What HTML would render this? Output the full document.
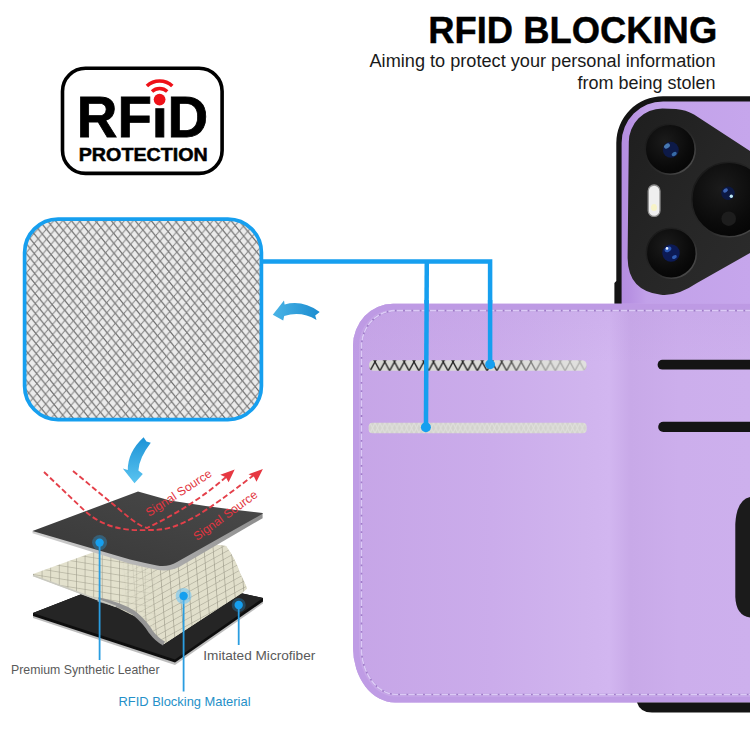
<!DOCTYPE html>
<html lang="en">
<head>
<meta charset="utf-8">
<title>RFID Blocking</title>
<style>
html,body{margin:0;padding:0;background:#fff;}
body{width:750px;height:750px;overflow:hidden;position:relative;font-family:"Liberation Sans",sans-serif;}
svg{position:absolute;left:0;top:0;display:block;}
text{font-family:"Liberation Sans",sans-serif;}
</style>
</head>
<body>
<svg width="750" height="750" viewBox="0 0 750 750">
<defs>
  <pattern id="mesh" width="8.4" height="10" patternUnits="userSpaceOnUse" patternTransform="matrix(1,0.06,0.02,1,25,208)">
    <rect width="8.4" height="10" fill="#ebebeb"/>
    <path d="M0,-5 L12.6,10 M-4.2,0 L8.4,15" fill="none" stroke="#6c6c6c" stroke-width="1.25"/>
    <path d="M-4.2,10 L8.4,-5 M0,15 L12.6,0" fill="none" stroke="#808080" stroke-width="0.95"/>
  </pattern>
  <pattern id="grid2" width="8.6" height="6.6" patternUnits="userSpaceOnUse" patternTransform="matrix(1,0.16,0,1,33,574)">
    <rect width="8.6" height="6.6" fill="#e3e1cd"/>
    <path d="M0,0 L8.6,0 M0,0 L0,6.6" fill="none" stroke="#9b9988" stroke-width="1.1"/>
  </pattern>
  <pattern id="grid3" width="8.7" height="6.3" patternUnits="userSpaceOnUse" patternTransform="matrix(1,-0.55,0.08,1,150,560)">
    <rect width="8.7" height="6.3" fill="#e1dfcb"/>
    <path d="M0,0 L8.7,0 M0,0 L0,6.3" fill="none" stroke="#959383" stroke-width="1.1"/>
  </pattern>
  <linearGradient id="meshfade" x1="0" y1="0" x2="1" y2="0">
    <stop offset="0" stop-color="#fff"/><stop offset="1" stop-color="#000"/>
  </linearGradient>
  <mask id="meshmask" maskUnits="userSpaceOnUse" x="30" y="530" width="230" height="130">
    <rect x="30" y="530" width="230" height="130" fill="#000"/>
    <rect x="120" y="530" width="40" height="130" fill="url(#meshfade)" transform="rotate(180 140 595)"/>
    <rect x="160" y="530" width="100" height="130" fill="#fff"/>
  </mask>
  <pattern id="slotmesh" x="365.25" y="361.9" width="9.75" height="18.04" patternUnits="userSpaceOnUse">
    <path d="M0,0 L4.875,9.02 L0,18.04 M9.75,0 L4.875,9.02 L9.75,18.04" fill="none" stroke="#232323" stroke-width="1.45"/>
  </pattern>
  <pattern id="slotmesh2" x="365.25" y="422.7" width="9.75" height="10.6" patternUnits="userSpaceOnUse">
    <rect width="9.75" height="10.6" fill="#d3d3ce"/>
    <path d="M0,0 L4.875,10.6 L9.75,0 M0,10.6 L4.875,0 L9.75,10.6" fill="none" stroke="#e0e0dc" stroke-width="1.1"/>
  </pattern>
  <linearGradient id="slotbg" x1="0" y1="0" x2="1" y2="0">
    <stop offset="0" stop-color="#d8d8d4"/>
    <stop offset="0.6" stop-color="#dcdcd9"/>
    <stop offset="1" stop-color="#e0e0de"/>
  </linearGradient>
  <linearGradient id="fadeg" x1="0" y1="0" x2="1" y2="0">
    <stop offset="0" stop-color="#fff"/>
    <stop offset="0.55" stop-color="#fff"/>
    <stop offset="0.8" stop-color="#555"/>
    <stop offset="1" stop-color="#333"/>
  </linearGradient>
  <mask id="fade" maskUnits="userSpaceOnUse" x="369" y="355" width="220" height="20"><rect x="369" y="355" width="220" height="20" fill="url(#fadeg)"/></mask>
  <linearGradient id="arrowg" x1="0" y1="0" x2="1" y2="0">
    <stop offset="0" stop-color="#4ab4e6"/>
    <stop offset="1" stop-color="#1b8cd0"/>
  </linearGradient>
  <linearGradient id="arrowg2" x1="0" y1="0" x2="0" y2="1">
    <stop offset="0" stop-color="#1c92d6"/>
    <stop offset="1" stop-color="#5ac4f0"/>
  </linearGradient>
  <linearGradient id="thickg" x1="0" y1="0" x2="1" y2="0">
    <stop offset="0" stop-color="#cfcfcf"/>
    <stop offset="0.55" stop-color="#b0b0b0"/>
    <stop offset="1" stop-color="#8e8e8e"/>
  </linearGradient>
  <linearGradient id="darkg" x1="0" y1="1" x2="1" y2="0">
    <stop offset="0" stop-color="#383838"/>
    <stop offset="1" stop-color="#4a4a4a"/>
  </linearGradient>
  <radialGradient id="lensblue" cx="0.45" cy="0.4" r="0.6">
    <stop offset="0" stop-color="#3a6fd0"/>
    <stop offset="0.6" stop-color="#15307a"/>
    <stop offset="1" stop-color="#070d24"/>
  </radialGradient>
  <linearGradient id="phoneg" gradientUnits="userSpaceOnUse" x1="621" y1="0" x2="750" y2="0">
    <stop offset="0" stop-color="#b48de0"/>
    <stop offset="0.07" stop-color="#b791e2"/>
    <stop offset="0.2" stop-color="#c2a1e9"/>
    <stop offset="1" stop-color="#c6a6ec"/>
  </linearGradient>
  <linearGradient id="islandg" x1="0" y1="0" x2="1" y2="1">
    <stop offset="0" stop-color="#1e1e1e"/>
    <stop offset="0.5" stop-color="#262626"/>
    <stop offset="1" stop-color="#2c2c2c"/>
  </linearGradient>
  <linearGradient id="rimg" x1="0" y1="0" x2="1" y2="1">
    <stop offset="0" stop-color="#161616"/>
    <stop offset="0.6" stop-color="#2a2a2a"/>
    <stop offset="1" stop-color="#5a5a5a"/>
  </linearGradient>
  <radialGradient id="lensdisc" cx="0.4" cy="0.35" r="0.7">
    <stop offset="0" stop-color="#1b1b1b"/>
    <stop offset="0.7" stop-color="#0a0a0a"/>
    <stop offset="1" stop-color="#050505"/>
  </radialGradient>
  <linearGradient id="walletg" gradientUnits="userSpaceOnUse" x1="353" y1="0" x2="750" y2="0">
    <stop offset="0" stop-color="#c6a5e7"/>
    <stop offset="0.35" stop-color="#cbaceb"/>
    <stop offset="0.58" stop-color="#d0b4ee"/>
    <stop offset="0.645" stop-color="#d2b6f0"/>
    <stop offset="0.70" stop-color="#c8a9e8"/>
    <stop offset="0.82" stop-color="#ccaeec"/>
    <stop offset="1" stop-color="#cdb0ed"/>
  </linearGradient>
  <linearGradient id="wallettop" x1="0" y1="0" x2="0" y2="1">
    <stop offset="0" stop-color="#b48edc" stop-opacity="0.15"/>
    <stop offset="1" stop-color="#b48edc" stop-opacity="0"/>
  </linearGradient>
</defs>

<rect width="750" height="750" fill="#ffffff"/>

<!-- ===== heading ===== -->
<text x="428.2" y="42.6" font-size="36" font-weight="700" fill="#000" stroke="#000" stroke-width="0.4" textLength="289" lengthAdjust="spacingAndGlyphs">RFID BLOCKING</text>
<text x="369.5" y="66.5" font-size="18" fill="#1a1a1a" textLength="346" lengthAdjust="spacingAndGlyphs">Aiming to protect your personal information</text>
<text x="577.5" y="88.7" font-size="18" fill="#1a1a1a" textLength="138" lengthAdjust="spacingAndGlyphs">from being stolen</text>

<!-- ===== RFID badge ===== -->
<g id="badge">
  <rect x="62.5" y="68.3" width="159.6" height="105.1" rx="23" ry="23" fill="#fff" stroke="#000" stroke-width="3.6"/>
  <text x="76.75" y="136.6" font-size="57" font-weight="700" fill="#000" stroke="#000" stroke-width="0.8" textLength="131.5" lengthAdjust="spacingAndGlyphs">RF<tspan fill="#000">I</tspan>D</text>
  <text x="78.75" y="161" font-size="18" font-weight="700" fill="#000" stroke="#000" stroke-width="0.5" textLength="129" lengthAdjust="spacingAndGlyphs">PROTECTION</text>
</g>

<!-- ===== mesh swatch ===== -->
<g id="swatch">
  <rect x="24.6" y="219.1" width="236.8" height="200.5" rx="33.5" ry="33.5" fill="url(#mesh)" stroke="#169fef" stroke-width="3.7"/>
</g>

<!-- connectors -->
<g fill="none" stroke="#169fef" stroke-width="4.5">
  <path d="M262,261.4 L490.1,261.4 L490.1,364"/>
  <path d="M426.8,261.4 L425.9,427"/>
</g>

<!-- ===== phone + wallet ===== -->
<g id="phone">
  <path d="M614.4,304 L614.4,283 L616.3,281 L616.3,143 A46.6,46.6 0 0 1 662.9,96.3 L750,96.3 L750,304 Z" fill="#141414"/>
  
  <path d="M621.6,304 L621.6,143 A41.5,41.5 0 0 1 663.1,101.4 L750,101.4 L750,304 Z" fill="url(#phoneg)"/>
  <path d="M628.8,142 A33.5,33.5 0 0 1 662.3,108.5 L676,109 Q686,109.8 694,114.5 L750,151 L750,253 L697,283 Q677,296.5 661,294.8 Q628,291 627.6,258 Z" fill="url(#islandg)"/>
  <!-- lenses -->
  <circle cx="670.2" cy="149.2" r="25" fill="url(#lensdisc)" stroke="url(#rimg)" stroke-width="1.6"/>
  <circle cx="670.8" cy="149.8" r="8" fill="#0d1a48"/>
  <ellipse cx="667" cy="146" rx="3.2" ry="2.2" fill="#5b9ad6" opacity="0.75" transform="rotate(-35 667 146)"/>
  <ellipse cx="674.2" cy="154" rx="2.8" ry="1.9" fill="#4a8ed0" opacity="0.7" transform="rotate(-35 674.2 154)"/>
  <circle cx="671.3" cy="253.2" r="25" fill="url(#lensdisc)" stroke="url(#rimg)" stroke-width="1.6"/>
  <circle cx="671" cy="253" r="8.7" fill="#0c1a55"/>
  <ellipse cx="668" cy="249.4" rx="3.6" ry="2.4" fill="#2f5fc0" opacity="0.9" transform="rotate(-30 668 249.4)"/>
  <circle cx="667" cy="248.4" r="1.3" fill="#e6f0ff"/>
  <ellipse cx="674.4" cy="257" rx="2.6" ry="1.7" fill="#3a6fd0" opacity="0.8" transform="rotate(-30 674.4 257)"/>
  <circle cx="729" cy="199.5" r="37.3" fill="url(#lensdisc)" stroke="url(#rimg)" stroke-width="1.6"/>
  <circle cx="728" cy="193.3" r="6.7" fill="#0c1842"/>
  <ellipse cx="725.5" cy="190.5" rx="2.6" ry="1.8" fill="#4a78d0" opacity="0.8" transform="rotate(-35 725.5 190.5)"/>
  <circle cx="731.3" cy="196.2" r="1.7" fill="#bfeaf5"/>
  <circle cx="728.7" cy="218.7" r="7.3" fill="#1d1d1d"/>
  <rect x="648.2" y="185" width="11.8" height="31.4" rx="5.9" ry="5.9" fill="#efefef" stroke="#8e8e8e" stroke-width="1.3"/>
  <ellipse cx="654" cy="207.5" rx="3" ry="3.6" fill="#f7f3c8"/>
</g>

<g id="wallet">
  <clipPath id="wclip"><path d="M760,303.8 L393,303.8 A40,42 0 0 0 353,345.8 L353,647.5 A42,55 0 0 0 395,702.5 L760,702.5 Z"/></clipPath>
  <path d="M760,303.8 L393,303.8 A40,42 0 0 0 353,345.8 L353,647.5 A42,55 0 0 0 395,702.5 L760,702.5 Z" fill="url(#walletg)"/>
  <g clip-path="url(#wclip)">
    <path d="M760,303.8 L393,303.8 A40,42 0 0 0 353,345.8 L353,647.5 A42,55 0 0 0 395,702.5 L760,702.5" fill="none" stroke="#bf9ce5" stroke-width="12"/>
    <rect x="353" y="303" width="400" height="60" fill="url(#wallettop)"/>
    <path d="M760,310.6 L395.5,310.6 A34,36 0 0 0 361.5,346.6 L361.5,648 A35,46.5 0 0 0 396.5,694.5 L760,694.5" fill="none" stroke="#9f7cc8" stroke-width="1.6"/>
    <path d="M760,310.6 L395.5,310.6 A34,36 0 0 0 361.5,346.6 L361.5,648 A35,46.5 0 0 0 396.5,694.5 L760,694.5" fill="none" stroke="#dccaf6" stroke-width="1.6" stroke-dasharray="6.5 1.8"/>
  </g>
  <!-- black strip under wallet -->
  <path d="M750,702.5 L637,702.5 Q640,712.5 652,712.5 L750,712.5 Z" fill="#141414"/>
  <!-- slots -->
  <rect x="369" y="360.2" width="217.6" height="10.6" rx="4.5" ry="4.5" fill="url(#slotbg)"/>
  <rect x="369" y="360.2" width="217.6" height="10.6" rx="4.5" ry="4.5" fill="url(#slotmesh)" mask="url(#fade)"/>
  <rect x="368.7" y="422.7" width="217.9" height="10.6" rx="3.8" ry="3.8" fill="url(#slotmesh2)"/>
  <rect x="657.6" y="359.8" width="110" height="9.8" rx="4.9" ry="4.9" fill="#141414"/>
  <rect x="658.2" y="421.8" width="110" height="10.2" rx="5.1" ry="5.1" fill="#141414"/>
  <path d="M750,497 Q736.5,500 735.3,524 L735.3,597 Q736,615.5 750,617.5 Z" fill="#1b1b1b"/>
</g>

<!-- connector dots on top of wallet -->
<g fill="#169fef">
  <path d="M424.4,300 L428.9,300 L428.2,427 L423.7,427 Z"/>
  <rect x="487.85" y="300" width="4.5" height="64" />
  <circle cx="425.9" cy="427.3" r="5"/>
  <circle cx="490.1" cy="364.4" r="4.9"/>
</g>

<!-- ===== blue arrows ===== -->
<path d="M272.8,314.8 L284,300.4 L284.6,304.6 Q302,299.5 319.7,311.9 L315.2,315.6 L316.5,319.9 Q301,310.5 284.2,316 L283.2,320.4 Z" fill="url(#arrowg)"/>
<path d="M143.6,437.2 L146.4,441.4 L150.8,442.8 Q139,458 138.4,470.6 L142.8,474 L134.5,483.3 L122.8,468.4 L127.8,470 Q127.6,452 143.6,437.2 Z" fill="url(#arrowg2)"/>

<!-- ===== layers diagram ===== -->
<g id="layers">
  <!-- bottom black layer -->
  <path d="M33,613 L141,571 L263,598 L263,603.5 L175,665 L33,618 Z" fill="#bdbdbd"/>
  <path d="M33,613 L141,571 L263,598 L263,601.5 L175,662.5 L33,616 Z" fill="#0e0e0e"/>
  <path d="M33,613 L141,571 L263,598 L175,659.5 Z" fill="#252525"/>
  <!-- mesh layer -->
  <path d="M33,574 L141,535 L226,546 Q235,558 240,573 Q245,583 247,588.5 L242,593 L164,644 Q150,634 146,624 Q140,618 130,614 L116,607 L33,576 Z" fill="url(#grid2)"/>
  <path d="M33,574 L141,535 L226,546 Q235,558 240,573 Q245,583 247,588.5 L242,593 L164,644 Q150,634 146,624 Q140,618 130,614 L116,607 L33,576 Z" fill="url(#grid3)" mask="url(#meshmask)"/>
  <path d="M98,599.5 Q122,605 134,613 Q145,622 151,632 Q157,640 164,643.5" fill="none" stroke="#959595" stroke-width="4.4"/>
  <path d="M33,575.5 L116,606.5" fill="none" stroke="#c9c9c0" stroke-width="1.5"/>
  <!-- top dark layer thickness -->
  <path d="M32.5,531 L32.5,533.2 L130,563.8 Q143,567 157,569.8 Q169,572 180,566.4 L262.6,518.2 L262.6,513 Z" fill="url(#thickg)"/>
  <path d="M32.5,531 L138,491.6 L170,500.4 Q215,507.8 262.6,513.1 L262.6,513.8 L177,562 Q168,567.5 157,565.5 Q143,562.8 130,559.6 Z" fill="url(#darkg)"/>
  <!-- red dashed signal lines -->
  <g fill="none" stroke="#e4404a" stroke-width="1.9" stroke-dasharray="5.5 2.8">
    <path d="M44,472 L86,512 C105,528 125,531 150,530 C180,531 205,512 253,475.8"/>
    <path d="M73,471 L120,510 Q140,527 147,528 Q194,505.5 226,477"/>
  </g>
  <path d="M234.7,469.4 L220.3,474.7 L225.8,477.2 L228.6,482.2 Z" fill="#e63842"/>
  <path d="M262.9,468.9 L248.5,474.2 L254,476.7 L256.5,481.7 Z" fill="#e63842"/>
  <text transform="translate(149,517) rotate(-33)" font-size="12" fill="#e23540" textLength="76" lengthAdjust="spacingAndGlyphs">Signal Source</text>
  <text transform="translate(197,541) rotate(-36)" font-size="12" fill="#e23540" textLength="76" lengthAdjust="spacingAndGlyphs">Signal Source</text>
  <!-- callouts -->
  <g stroke="#2a9de0" stroke-width="1.8" fill="none">
    <path d="M99.6,542 L99.6,660"/>
    <path d="M183.6,596 L183.6,691.5"/>
    <path d="M238.7,605 L238.7,645"/>
  </g>
  <circle cx="99.6" cy="542.6" r="7.5" fill="#2a9de0" opacity="0.35"/>
  <circle cx="99.6" cy="542.6" r="4.2" fill="#169fef"/>
  <circle cx="183.6" cy="596" r="8" fill="#6cc2f6" opacity="0.55"/>
  <circle cx="183.6" cy="596" r="4.2" fill="#169fef"/>
  <circle cx="238.7" cy="605" r="7" fill="#2a9de0" opacity="0.3"/>
  <circle cx="238.7" cy="605" r="4.2" fill="#169fef"/>
  <text x="11" y="674" font-size="13.4" fill="#5a5a5a" textLength="148.5" lengthAdjust="spacingAndGlyphs">Premium Synthetic Leather</text>
  <text x="203.3" y="659.5" font-size="13.4" fill="#5a5a5a" textLength="112" lengthAdjust="spacingAndGlyphs">Imitated Microfiber</text>
  <text x="118.5" y="706" font-size="13.4" fill="#2590c8" textLength="132" lengthAdjust="spacingAndGlyphs">RFID Blocking Material</text>
</g>

<!-- badge wifi icon -->
<g id="wifi">
  <rect x="153" y="92" width="14" height="16.2" fill="#fff"/>
  <circle cx="159.6" cy="99.6" r="5.9" fill="#ee1118"/>
  <path d="M152.0,91.5 A11.1,11.1 0 0 1 167.2,91.5" fill="none" stroke="#ee1118" stroke-width="3.4"/>
  <path d="M146.9,86.0 A18.6,18.6 0 0 1 172.3,86.0" fill="none" stroke="#ee1118" stroke-width="3.6"/>
</g>
</svg>
</body>
</html>
